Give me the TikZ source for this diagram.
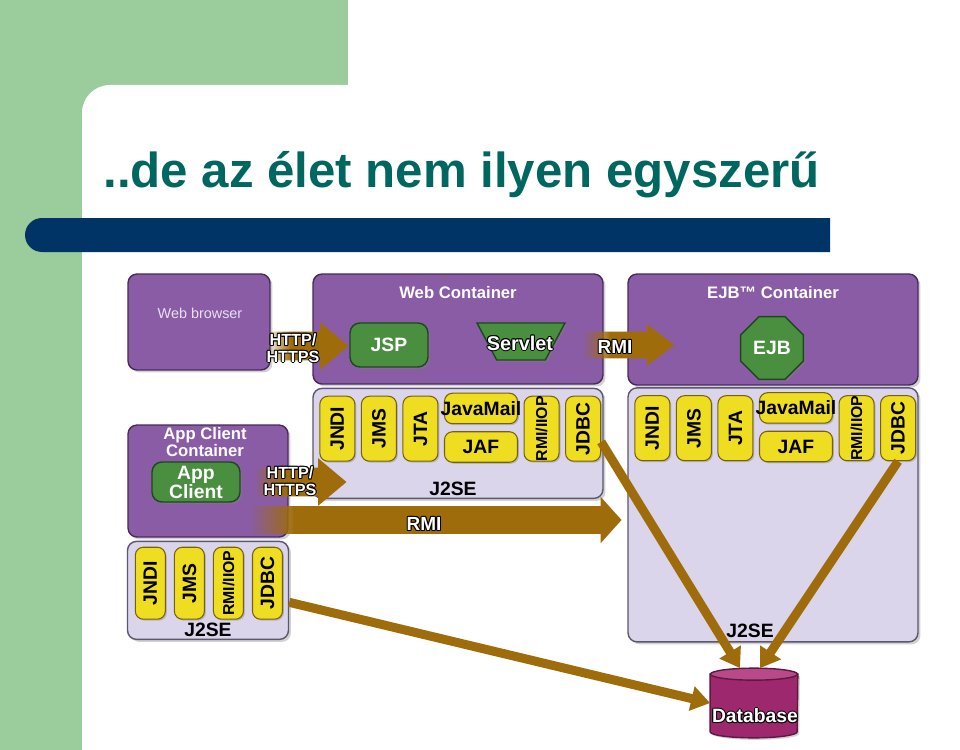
\documentclass[tikz,border=0pt]{standalone}
\usepackage{graphicx}
\usepackage{fontspec}
\setmainfont{Liberation Sans}
\usetikzlibrary{shapes.geometric, shapes.arrows, arrows.meta, positioning, calc, fadings, shadows}

\definecolor{slidegreen}{RGB}{155,204,155}
\definecolor{slidenavy}{RGB}{0,51,102}
\definecolor{titleteal}{RGB}{0,102,96}
\definecolor{boxpurple}{RGB}{138,92,165}
\definecolor{purpleedge}{RGB}{72,42,92}
\definecolor{lavender}{RGB}{219,213,236}
\definecolor{lavenderedge}{RGB}{92,86,110}
\definecolor{pillyellow}{RGB}{238,221,32}
\definecolor{pilledge}{RGB}{118,98,8}
\definecolor{btngreen}{RGB}{74,142,64}
\definecolor{btnedge}{RGB}{28,72,28}
\definecolor{arrowbrown}{RGB}{158,108,10}
\definecolor{dbmagenta}{RGB}{158,40,110}
\definecolor{dbtop}{RGB}{184,74,138}
\definecolor{dbedge}{RGB}{95,24,66}
\definecolor{browsertext}{RGB}{232,224,244}

% fade-in at the tail of the fat arrows
\pgfdeclarehorizontalshading{softstartshade}{100bp}{color(0bp)=(black); color(25bp)=(black); color(40bp)=(white); color(100bp)=(white)}
\pgfdeclarefading{softstart}{\pgfuseshading{softstartshade}}
\pgfdeclarehorizontalshading{sharpstartshade}{100bp}{color(0bp)=(black); color(25bp)=(black); color(31bp)=(white); color(100bp)=(white)}
\pgfdeclarefading{sharpstart}{\pgfuseshading{sharpstartshade}}

% white text with a dark rim
\newcommand{\haloed}[4][]{%
  \foreach \hx/\hy in {-1/0,1/0,0/-1,0/1,-.7/-.7,.7/.7,-.7/.7,.7/-.7}
    \node[arrowtext, #1, text=black] at ($(#3)+(\hx,\hy)$) {#4};
  \node[arrowtext, #1] (#2) at (#3) {#4};
}

\begin{document}
\begin{tikzpicture}[x=0.02cm, y=-0.02cm,
    container/.style={draw=purpleedge, fill=boxpurple, line width=0.8pt, rounded corners=0.18cm,
      drop shadow={shadow xshift=0.05cm, shadow yshift=-0.05cm, opacity=0.35}},
    platform/.style={draw=lavenderedge, fill=lavender, line width=0.8pt, rounded corners=0.18cm,
      drop shadow={shadow xshift=0.05cm, shadow yshift=-0.05cm, opacity=0.35}},
    pill/.style={draw=pilledge, fill=pillyellow, line width=0.6pt, rounded corners=0.16cm, inner sep=0pt,
      minimum width=0.7cm, minimum height=1.3cm, font=\fontsize{11}{11}\selectfont\bfseries,
      drop shadow={shadow xshift=0.03cm, shadow yshift=-0.03cm, opacity=0.4}},
    flatpill/.style={pill, minimum width=1.46cm, minimum height=0.61cm},
    clientpill/.style={pill, minimum width=0.6cm, minimum height=1.44cm},
    greenshape/.style={draw=btnedge, fill=btngreen, line width=0.8pt, inner sep=0pt,
      text=white, align=center, font=\fontsize{11}{10.8}\selectfont\bfseries,
      drop shadow={shadow xshift=0.04cm, shadow yshift=-0.04cm, opacity=0.4}},
    button/.style={greenshape, rounded corners=0.2cm},
    boxtitle/.style={text=white, align=center, font=\fontsize{9.5}{9.6}\selectfont\bfseries},
    setext/.style={font=\fontsize{11}{11}\selectfont\bfseries},
    arrowtext/.style={text=white, align=center, font=\fontsize{9.2}{9.5}\selectfont\bfseries, inner sep=0pt},
    fatarrow/.style={single arrow, fill=arrowbrown, inner xsep=0pt, inner ysep=0.28cm,
      single arrow head extend=0.19cm, single arrow tip angle=80, anchor=tip},
    dbarrow/.style={draw=arrowbrown, line width=0.18cm, -{Triangle[length=0.38cm, width=0.48cm]}}
  ]
  \useasboundingbox (0,0) rectangle (960,750);

  % slide background
  \fill[slidegreen] (0,0) rectangle (348,130);
  \fill[slidegreen] (0,0) rectangle (82,750);
  \fill[white, rounded corners=0.56cm] (82,85) rectangle (1000,800);
  \fill[slidenavy] (830,218) -- (42,218) arc[start angle=270, end angle=90, radius=17] -- (830,252) -- cycle;
  \node[anchor=base west, text=titleteal, font=\fontsize{28}{28}\selectfont\bfseries, inner sep=0pt]
    (title) at (103,187) {..de az élet nem ilyen egyszerű};

  % containers
  \node[container, minimum width=2.84cm, minimum height=1.92cm] (browser) at (199,322) {};
  \node[text=browsertext, font=\fontsize{8.2}{8}\selectfont] (browserlabel) at (200,313) {Web browser};

  \node[container, minimum width=5.8cm, minimum height=2.2cm] (webc) at (458,329) {};
  \node[boxtitle] (webtitle) at ($(webc.north)+(0,19)$) {Web Container};
  \node[platform, minimum width=5.8cm, minimum height=2.2cm, below=0.06cm of webc] (w2se) {};

  \node[container, minimum width=5.8cm, minimum height=2.22cm] (ejbc) at (773,329.5) {};
  \node[boxtitle] (ejbtitle) at ($(ejbc.north)+(0,19)$) {EJB™ Container};
  \node[platform, minimum width=5.8cm, minimum height=5.08cm, below=0.03cm of ejbc] (e2se) {};

  \node[container, minimum width=3.2cm, minimum height=2.24cm] (appc) at (208,481) {};
  \node[boxtitle] (apptitle) at ($(appc.north)+(-3,18)$) {App Client\\Container};
  \node[platform, minimum width=3.22cm, minimum height=1.96cm, below=0.06cm of appc] (c2se) {};

  % database drum
  \node[minimum width=1.74cm, minimum height=1.38cm, inner sep=0pt] (db) at (754,703) {};
  \filldraw[fill=dbmagenta, draw=dbedge, line width=0.8pt,
    drop shadow={shadow xshift=0.04cm, shadow yshift=-0.04cm, opacity=0.35}]
    ($(db.north west)+(0,6)$) -- ($(db.south west)+(0,-6)$)
    arc[start angle=180, end angle=0, x radius=43.5, y radius=6] -- ($(db.north east)+(0,6)$) -- cycle;
  \filldraw[fill=dbtop, draw=dbedge, line width=0.8pt] ($(db.north)+(0,6)$) ellipse[x radius=43.5, y radius=6];

  % fat arrows
  \node[fatarrow, minimum height=1.64cm, path fading=softstart] (httpa) at (349,346) {};
  \node[fatarrow, minimum height=1.84cm, path fading=softstart] (httpb) at (347,482) {};
  \node[fatarrow, minimum height=1.84cm, inner ysep=0.26cm, single arrow head extend=0.15cm,
    single arrow tip angle=74, path fading=softstart] (rmia) at (675,345) {};
  \node[fatarrow, minimum height=7.44cm, inner ysep=0.27cm, single arrow tip angle=96,
    path fading=sharpstart] (rmib) at (622,520) {};
  \haloed{httpalabel}{293,348}{HTTP/\\HTTPS}
  \haloed{httpblabel}{290,481}{HTTP/\\HTTPS}
  \haloed[font=\fontsize{10.8}{11}\selectfont\bfseries]{rmialabel}{615,347}{RMI}
  \haloed[font=\fontsize{10.8}{11}\selectfont\bfseries]{rmiblabel}{424,524}{RMI}

  % components
  \node[button, minimum width=1.56cm, minimum height=0.88cm] (jsp) at (389,345) {JSP};
  \node[greenshape, trapezium, shape border rotate=180, trapezium angle=68, trapezium stretches=true,
    inner sep=2pt, minimum width=1.76cm, minimum height=0.74cm] (servlet) at (521,341.5) {};
  \haloed[font=\fontsize{11.3}{11}\selectfont\bfseries]{servletlabel}{520,343}{Servlet}
  \node[greenshape, regular polygon, regular polygon sides=8, minimum size=1.36cm] (ejb) at (772,348) {EJB};
  \node[button, minimum width=1.76cm, minimum height=0.8cm] (appclient) at (196,482) {App\\Client};

  % APIs of the two servers
  \foreach \p in {w,e} {
    \node[pill, anchor=north west] (\p jndi) at ($(\p 2se.north west)+(7,8)$) {\rotatebox{90}{\makebox[0pt]{JNDI}}};
    \node[pill, right=0.11cm of \p jndi] (\p jms) {\rotatebox{90}{\makebox[0pt]{JMS}}};
    \node[pill, right=0.11cm of \p jms] (\p jta) {\rotatebox{90}{\makebox[0pt]{JTA}}};
    \node[flatpill, anchor=north west] (\p mail) at ($(\p jta.north east)+(5.5,-3)$) {\makebox[0pt]{JavaMail}};
    \node[flatpill, below=0.14cm of \p mail] (\p jaf) {JAF};
    \node[pill, anchor=north west] (\p rmi) at ($(\p mail.north east)+(5.5,3)$)
      {\rotatebox{90}{\makebox[0pt]{\fontsize{9}{9}\selectfont RMI/IIOP}}};
    \node[pill, right=0.11cm of \p rmi] (\p jdbc) {\rotatebox{90}{\makebox[0pt]{JDBC}}};
  }
  \node[setext] (wj2se) at ($(w2se.south)+(-5,-10)$) {J2SE};
  \node[setext] (ej2se) at ($(e2se.south)+(-23,-12)$) {J2SE};

  % APIs of the client
  \node[clientpill, anchor=north west] (cjndi) at ($(c2se.north west)+(8,6)$) {\rotatebox{90}{\makebox[0pt]{JNDI}}};
  \node[clientpill, right=0.16cm of cjndi] (cjms) {\rotatebox{90}{\makebox[0pt]{JMS}}};
  \node[clientpill, right=0.16cm of cjms] (crmi) {\rotatebox{90}{\makebox[0pt]{\fontsize{9}{9}\selectfont RMI/IIOP}}};
  \node[clientpill, right=0.16cm of crmi] (cjdbc) {\rotatebox{90}{\makebox[0pt]{JDBC}}};
  \node[setext] (cj2se) at ($(c2se.south)+(0,-10)$) {J2SE};

  % JDBC links to the database
  \draw[dbarrow] ($(wjdbc.south east)!0.3!(wjdbc.north east)$) -- ($(db.north)+(-14,0)$);
  \draw[dbarrow] (ejdbc.south) -- ($(db.north)+(6,0)$);
  \draw[dbarrow] ($(c2se.south east)!0.38!(c2se.north east)$) -- (db.west);
  \haloed[font=\fontsize{11}{11}\selectfont\bfseries]{dblabel}{755,716}{Database}
\end{tikzpicture}
\end{document}
